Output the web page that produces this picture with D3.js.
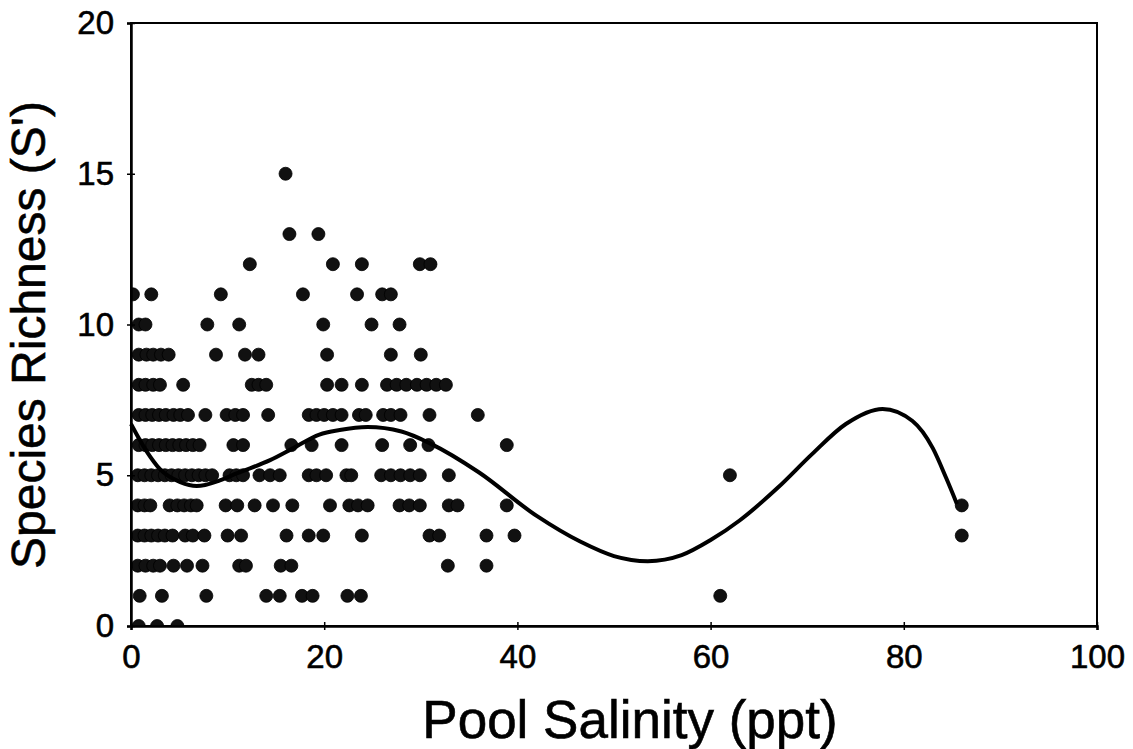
<!DOCTYPE html>
<html>
<head>
<meta charset="utf-8">
<script src="https://cdn.jsdelivr.net/npm/d3@7"></script>
<style>
  html, body { margin: 0; padding: 0; background: #fff; }
  svg { display: block; font-family: "Liberation Sans", Arial, sans-serif; }
</style>
</head>
<body>
<div id="chart"></div>
<script>
(function () {
  "use strict";

  /***** Données *****/
  // niveaux de richesse (S') et salinités observées pour chaque niveau
  var richnessLevels = [0, 1, 2, 3, 4, 5, 6, 7, 8, 9, 10, 11, 12, 13, 15];
  var salinityRows = [
    [0.8, 2.7, 4.8],
    [0.9, 3.2, 7.8, 14.0, 15.4, 17.7, 18.8, 22.4, 23.8, 61],
    [0.7, 1.5, 2.3, 3.0, 4.4, 5.8, 7.4, 11.2, 11.9, 15.5, 16.6, 32.8, 36.8],
    [0.7, 1.4, 2.1, 2.8, 3.5, 4.3, 5.6, 6.4, 7.6, 10.0, 11.4, 16.1, 18.4, 19.9,
     23.9, 30.9, 31.9, 36.8, 39.7, 86],
    [0.7, 1.4, 2.0, 4.0, 4.8, 5.5, 6.2, 6.8, 9.8, 11.0, 12.8, 14.7, 16.7, 20.6,
     22.6, 23.5, 24.5, 27.8, 28.8, 29.9, 32.9, 33.8, 38.9, 86],
    [0.7, 1.4, 2.1, 2.8, 3.5, 4.2, 4.9, 5.6, 6.3, 7.0, 7.7, 8.4, 10.2, 10.9, 11.6,
     13.3, 14.4, 15.4, 18.4, 19.2, 20.2, 22.3, 22.8, 25.9, 26.9, 27.9, 28.9, 29.9,
     32.9, 62],
    [0.8, 1.5, 2.2, 2.9, 3.6, 4.3, 5.0, 5.7, 6.4, 7.1, 10.6, 11.6, 16.6, 18.7,
     21.8, 26.0, 28.9, 30.8, 38.9],
    [0.8, 1.5, 2.2, 2.9, 3.6, 4.4, 5.1, 5.9, 7.7, 9.9, 10.8, 11.6, 14.2, 18.4,
     19.2, 20.0, 20.9, 21.8, 23.6, 24.3, 26.1, 26.9, 27.9, 30.9, 35.9],
    [0.8, 1.5, 2.3, 3.0, 5.4, 12.5, 13.2, 14.0, 20.3, 21.8, 23.9, 26.5, 27.5,
     28.5, 29.6, 30.6, 31.6, 32.6],
    [0.8, 1.6, 2.3, 3.1, 3.9, 8.8, 11.8, 13.2, 20.3, 26.9, 30.0],
    [0.8, 1.5, 7.9, 11.2, 19.9, 24.9, 27.8],
    [0.2, 2.1, 9.3, 17.8, 23.4, 26.0, 26.9],
    [12.3, 20.9, 23.9, 29.9, 31.0],
    [16.4, 19.4],
    [16.0]
  ];

  // courbe de tendance
  var trendSalinity = [0, 1.6, 3, 5.1, 6.8, 9.2, 11, 14.4, 16.8, 19.5, 21.6, 24.5,
    28, 31, 36, 42, 46.5, 50, 53.5, 57, 60, 63, 67, 70.5, 74, 77.8, 80.9, 83,
    84.4, 85.5];
  var trendRichness = [6.7, 5.8, 5.2, 4.77, 4.64, 4.83, 5.07, 5.5, 5.9, 6.35, 6.5,
    6.6, 6.45, 6.05, 5.1, 3.65, 2.8, 2.32, 2.15, 2.35, 2.85, 3.5, 4.6, 5.7, 6.7,
    7.2, 6.8, 5.9, 4.9, 4.05];

  var xTicks = [0, 20, 40, 60, 80, 100];
  var yTicks = [0, 5, 10, 15, 20];

  /***** Configuration *****/
  var width = 1133, height = 749;
  var plot = {left: 131, right: 1097, top: 23, bottom: 626};

  var x = d3.scaleLinear().domain([0, 100]).range([plot.left, plot.right]);
  var y = d3.scaleLinear().domain([0, 20]).range([plot.bottom, plot.top]);

  var svg = d3.select("#chart")
    .append("svg")
    .attr("width", width)
    .attr("height", height);

  svg.append("clipPath")
    .attr("id", "plot-clip")
    .append("rect")
    .attr("x", plot.left)
    .attr("y", plot.top)
    .attr("width", plot.right - plot.left)
    .attr("height", plot.bottom - plot.top);

  // cadre
  svg.append("rect")
    .attr("x", plot.left)
    .attr("y", plot.top)
    .attr("width", plot.right - plot.left)
    .attr("height", plot.bottom - plot.top)
    .attr("fill", "none")
    .attr("stroke", "#000")
    .attr("stroke-width", 2);

  /***** Points *****/
  var points = [];
  richnessLevels.forEach(function (s, i) {
    salinityRows[i].forEach(function (v) { points.push({x: v, y: s}); });
  });

  svg.append("g")
    .attr("clip-path", "url(#plot-clip)")
    .selectAll("circle")
    .data(points)
    .enter()
    .append("circle")
    .attr("cx", function (d) { return x(d.x); })
    .attr("cy", function (d) { return y(d.y); })
    .attr("r", 6.5)
    .attr("fill", "#111")
    .attr("stroke", "#000")
    .attr("stroke-width", 0.8);

  /***** Courbe *****/
  var trend = trendSalinity.map(function (v, i) { return [v, trendRichness[i]]; });
  var line = d3.line()
    .x(function (d) { return x(d[0]); })
    .y(function (d) { return y(d[1]); })
    .curve(d3.curveMonotoneX);

  svg.append("path")
    .datum(trend)
    .attr("d", line)
    .attr("fill", "none")
    .attr("stroke", "#000")
    .attr("stroke-width", 4);

  /***** Axes *****/
  var xAxis = svg.append("g")
    .attr("transform", "translate(0," + plot.bottom + ")")
    .call(d3.axisBottom(x).tickValues(xTicks).tickSize(4).tickPadding(15));
  xAxis.selectAll(".tick line").attr("y1", -4).attr("stroke-width", 1.5);

  var yAxis = svg.append("g")
    .attr("transform", "translate(" + plot.left + ",0)")
    .call(d3.axisLeft(y).tickValues(yTicks).tickSize(4).tickPadding(13));
  yAxis.selectAll(".tick line").attr("x1", 4).attr("stroke-width", 1.5);

  svg.selectAll(".domain").attr("stroke-width", 2.5);
  svg.selectAll(".tick text")
    .attr("font-size", 33)
    .attr("fill", "#000")
    .attr("stroke", "#000")
    .attr("stroke-width", 0.6)
    .attr("font-family", "'Liberation Sans', Arial, sans-serif");

  /***** Titres *****/
  svg.append("text")
    .attr("x", 630)
    .attr("y", 738)
    .attr("text-anchor", "middle")
    .attr("font-size", 53)
    .attr("stroke", "#000")
    .attr("stroke-width", 0.6)
    .text("Pool Salinity (ppt)");

  svg.append("text")
    .attr("transform", "translate(45,335) rotate(-90)")
    .attr("text-anchor", "middle")
    .attr("font-size", 48)
    .attr("stroke", "#000")
    .attr("stroke-width", 0.6)
    .text("Species Richness (S')");
})();
</script>
</body>
</html>
